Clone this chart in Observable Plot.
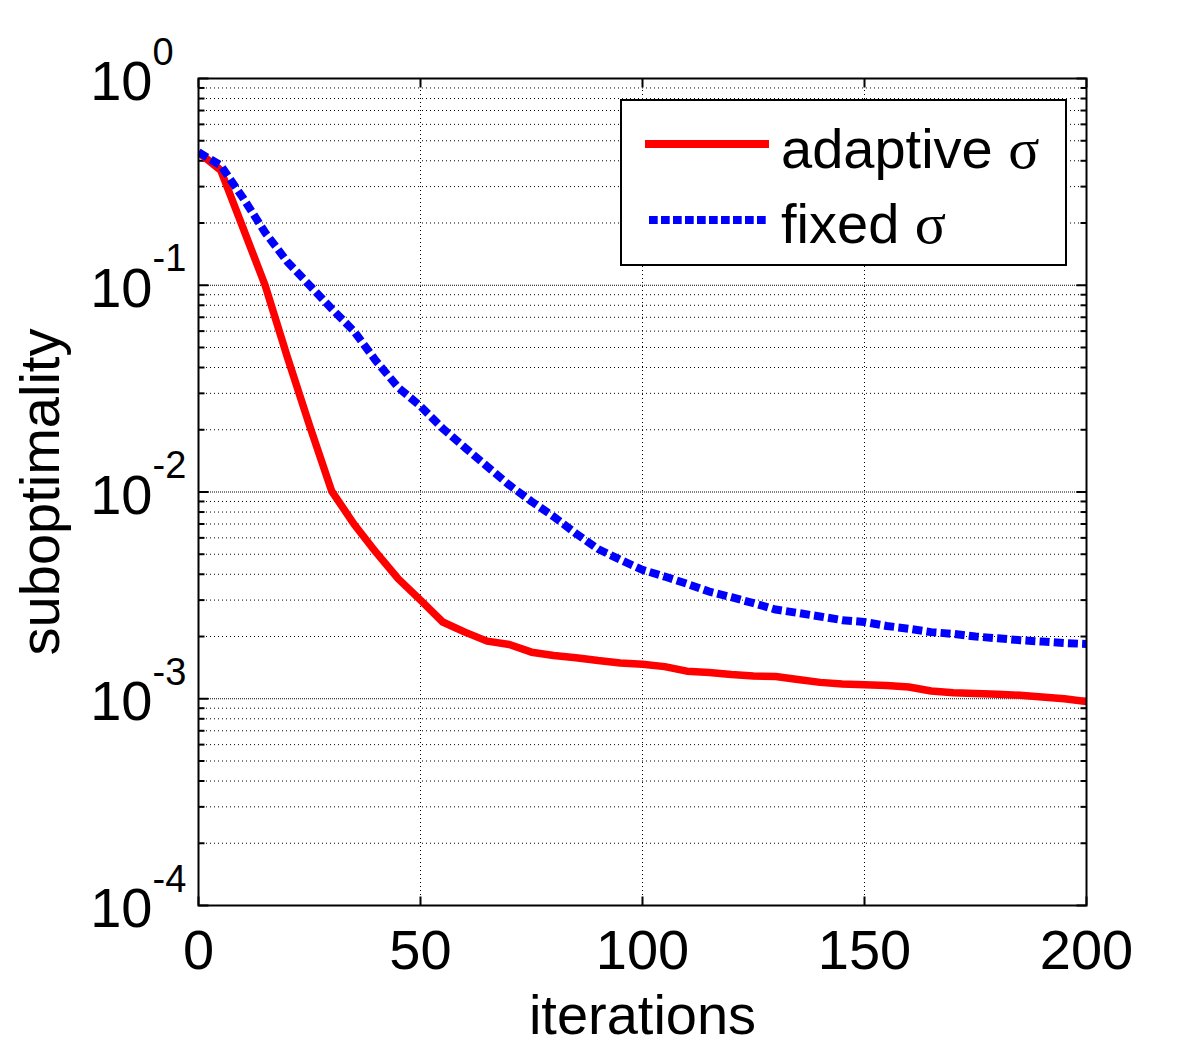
<!DOCTYPE html>
<html><head><meta charset="utf-8">
<script src="https://cdn.jsdelivr.net/npm/d3@7"></script>
<script src="https://cdn.jsdelivr.net/npm/@observablehq/plot@0.6"></script>
<style>body{margin:0;background:#fff} #chart svg{display:block}</style>
</head><body><div id="chart"></div>
<script>
const iterations = [0,5,10,15,20,25,30,35,40,45,50,55,60,65,70,75,80,85,90,95,100,105,110,115,120,125,130,135,140,145,150,155,160,165,170,175,180,185,190,195,200];
const adaptiveSigma = [0.44,0.36,0.19,0.1,0.045,0.021,0.0101,0.0070,0.0051,0.0038,0.0030,0.00235,0.0021,0.0019,0.00183,0.00168,0.00162,0.00158,0.00153,0.00149,0.00147,0.00143,0.00136,0.00134,0.00131,0.00129,0.00128,0.00124,0.0012,0.00118,0.00117,0.00116,0.00114,0.00109,0.00107,0.00106,0.00105,0.00104,0.00102,0.001,0.00097];
const fixedSigma = [0.44,0.38,0.265,0.18,0.13,0.1,0.077,0.06,0.043,0.032,0.026,0.0203,0.0164,0.0133,0.0108,0.009,0.0076,0.0063,0.0053,0.0047,0.0042,0.0039,0.0036,0.0033,0.0031,0.0029,0.0027,0.0026,0.0025,0.0024,0.00235,0.00225,0.00218,0.0021,0.00206,0.002,0.00196,0.00192,0.00189,0.00186,0.00184];
const seriesNames = ["adaptive", "fixed"];
const sigma = "σ";
const xTicks = [0,50,100,150,200];
const yMajorTicks = [1e-4,1e-3,1e-2,1e-1,1];
const yExponents = ["-4","-3","-2","-1","0"];
const xLabel = "iterations";
const yLabel = "suboptimality";

const yMinorTicks = yMajorTicks.slice(0,-1).flatMap(p => [2,3,4,5,6,7,8,9].map(m => m*p));
const yAllTicks = yMajorTicks.concat(yMinorTicks);
const adaptive = iterations.map((x,i) => ({x, y: adaptiveSigma[i]}));
const fixed = iterations.map((x,i) => ({x, y: fixedSigma[i]}));
const yLabels = yMajorTicks.map((v,i) => ({v, e: yExponents[i]}));

const W = 1200, H = 1050, mL = 198, mR = 114, mT = 78, mB = 145;
const FONT = "'Liberation Sans', Arial, sans-serif";
const tickShape = {draw(ctx, l){ ctx.moveTo(0,0); ctx.lineTo(0,-l); }};
const tk = (data, opts) => Plot.vector(data, {anchor:"start", shape: tickShape, stroke:"#000", strokeWidth:2, strokeLinecap:"butt", ...opts});

const plot = Plot.plot({
  width: W, height: H, marginLeft: mL, marginRight: mR, marginTop: mT, marginBottom: mB,
  x: {domain: [0,200], axis: null},
  y: {type: "log", domain: [1e-4, 1], axis: null},
  style: {fontFamily: FONT, background: "#fff", color: "#000"},
  marks: [
    Plot.ruleY(yAllTicks, {y: d => d, stroke: "#000", strokeWidth: 1, strokeDasharray: "1,3"}),
    Plot.ruleY(yMajorTicks, {y: d => d, stroke: "#000", strokeWidth: 1, strokeDasharray: "1,3", strokeDashoffset: 2}),
    Plot.ruleX(xTicks, {x: d => d, stroke: "#000", strokeWidth: 1, strokeDasharray: "1,3"}),
    tk(yMajorTicks, {y: d => d, frameAnchor: "left", length: 10, rotate: 90}),
    tk(yMinorTicks, {y: d => d, frameAnchor: "left", length: 6, rotate: 90}),
    tk(yMajorTicks, {y: d => d, frameAnchor: "right", length: 10, rotate: -90}),
    tk(yMinorTicks, {y: d => d, frameAnchor: "right", length: 6, rotate: -90}),
    tk(xTicks, {x: d => d, frameAnchor: "bottom", length: 9, rotate: 0}),
    tk(xTicks, {x: d => d, frameAnchor: "top", length: 9, rotate: 180}),
    Plot.line(adaptive, {x: "x", y: "y", stroke: "#ff0000", strokeWidth: 7.5, strokeLinejoin: "round", strokeLinecap: "butt", clip: true}),
    Plot.line(fixed, {x: "x", y: "y", stroke: "#0000ff", strokeWidth: 8, strokeDasharray: "10,4.2", strokeLinejoin: "miter", strokeLinecap: "butt", clip: true}),
    Plot.frame({stroke: "#000", strokeWidth: 2}),
    Plot.text(xTicks, {x: d => d, frameAnchor: "bottom", text: d => String(d), textAnchor: "middle", lineAnchor: "bottom", dy: 63, fontSize: 56, fontFamily: FONT, fill: "#000"}),
    Plot.text(yLabels, {y: "v", frameAnchor: "left", text: () => "10", textAnchor: "end", lineAnchor: "bottom", dx: -46, dy: 21.5, fontSize: 56, fontFamily: FONT, fill: "#000"}),
    Plot.text(yLabels, {y: "v", frameAnchor: "left", text: "e", textAnchor: "start", lineAnchor: "bottom", dx: -46, dy: -14, fontSize: 38, fontFamily: FONT, fill: "#000"}),
    Plot.text([xLabel], {frameAnchor: "bottom", text: d => d, textAnchor: "middle", lineAnchor: "bottom", dy: 128, fontSize: 56, fontFamily: FONT, fill: "#000"}),
    Plot.text([yLabel], {frameAnchor: "left", text: d => d, rotate: -90, textAnchor: "middle", lineAnchor: "bottom", dx: -140, fontSize: 56, fontFamily: FONT, fill: "#000"})
  ]
});

// legend
const svg = d3.select(plot);
const lw = 445, lh = 165;
const lx = W - mR - 20 - lw, ly = mT + 22;
const g = svg.append("g").attr("font-family", FONT).attr("font-size", 56).attr("text-anchor", "start");
g.append("rect").attr("x", lx).attr("y", ly).attr("width", lw).attr("height", lh)
  .attr("fill", "#fff").attr("stroke", "#000").attr("stroke-width", 2);
const rows = [
  {name: seriesNames[0], color: "#ff0000", dash: null, ly: 44, ty: 68, x1: 24},
  {name: seriesNames[1], color: "#0000ff", dash: "8.7,3.3", ly: 120, ty: 143, x1: 28}
];
rows.forEach(r => {
  g.append("line").attr("x1", lx + r.x1).attr("x2", lx + 148).attr("y1", ly + r.ly).attr("y2", ly + r.ly)
    .attr("stroke", r.color).attr("stroke-width", 8).attr("stroke-dasharray", r.dash);
  const t = g.append("text").attr("x", lx + 160).attr("y", ly + r.ty).attr("fill", "#000").attr("text-anchor", "start");
  t.append("tspan").text(r.name + " ");
  t.append("tspan").attr("font-family", "'Liberation Serif', 'DejaVu Serif', serif").attr("font-size", 58).text(sigma);
});

document.getElementById("chart").appendChild(plot);
</script>
</body></html>
